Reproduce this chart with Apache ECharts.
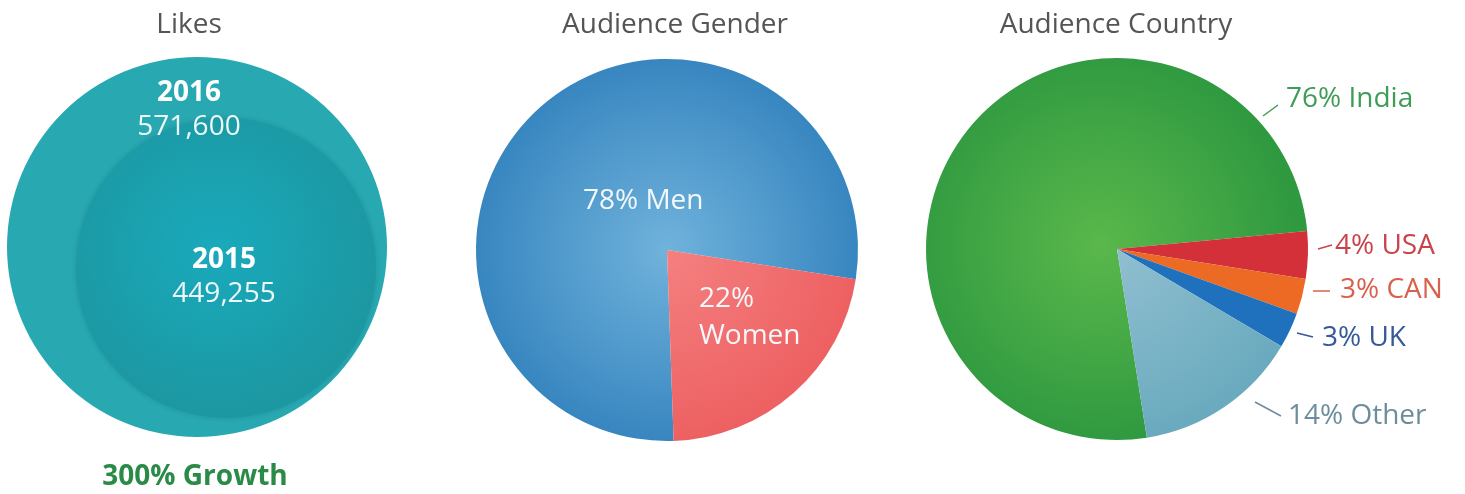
<!DOCTYPE html>
<html>
<head>
<meta charset="utf-8">
<script src="https://cdn.jsdelivr.net/npm/echarts@6/dist/echarts.min.js"></script>
<style>
html,body{margin:0;padding:0;background:#fff;}
#chart{width:1465px;height:494px;}
</style>
</head>
<body>
<div id="chart"></div>
<script>
// ---- data ----
const panelTitles = ['Likes', 'Audience Gender', 'Audience Country'];
const likeYears = ['2016', '2015'];
const likeValues = [571600, 449255];
const growthText = '300% Growth';
const genderNames = ['Men', 'Women'];
const genderValues = [78, 22];
const countryNames = ['India', 'USA', 'CAN', 'UK', 'Other'];
const countryValues = [76, 4, 3, 3, 14];

// ---- styles ----
const FONT = '"Open Sans", "Noto Sans", sans-serif';
const FS = 28;
function radialAt(cx, cy, r, c0, c1) {
  return new echarts.graphic.RadialGradient(cx, cy, r, [
    {offset: 0, color: c0}, {offset: 1, color: c1}
  ], true);
}
const GC = [667, 250, 191];   // gender pie center/radius
const CC = [1117, 249, 191];  // country pie center/radius
const countryFill = [
  radialAt(1100, 245, 200, '#5ab84b', '#2f9940'),
  '#d3303a', '#ec6a24', '#1f70bd',
  radialAt(1117, 249, 191, '#90bfd0', '#6aaabe')
];
const countryText = ['#3f9c57', '#c9434a', '#d9604c', '#34589a', '#6d8d9c'];
const countryLabelPos = [
  {x: 1286, y: 99, line: [[1263, 116], [1278, 105]]},
  {x: 1335, y: 246, line: [[1318, 249], [1332, 245]]},
  {x: 1340, y: 290, line: [[1313, 291], [1330, 291]]},
  {x: 1322, y: 338, line: [[1297, 333], [1313, 337]]},
  {x: 1288, y: 416, line: [[1255, 402], [1281, 416]]}
];
function fmt(n) { return n.toLocaleString('en-US'); }

const chart = echarts.init(document.getElementById('chart'), null, {renderer: 'canvas'});

const titleX = [184, 670, 1111];
const likeRich = {
  b: {fontFamily: FONT, fontSize: FS, fontWeight: 'bold', color: '#fff', lineHeight: 34},
  v: {fontFamily: FONT, fontSize: FS, color: '#eef8f8', lineHeight: 34}
};
const option = {
  animation: false,
  title: panelTitles.map((t, i) => ({
    text: t, left: titleX[i], top: 6, textAlign: 'center',
    textStyle: {fontFamily: FONT, fontSize: FS, fontWeight: 'normal', color: '#555'}
  })).concat([{
    text: growthText, left: 190, top: 458, textAlign: 'center',
    textStyle: {fontFamily: FONT, fontSize: FS, fontWeight: 'bold', color: '#2a8a48'}
  }]),
  series: [
    // Likes 2016 (outer circle)
    {
      type: 'pie', silent: true, center: [197, 247], radius: [0, 190],
      data: [{name: likeYears[0], value: likeValues[0]}],
      itemStyle: {color: '#28a9b2'},
      label: {
        show: true, position: 'inside',
        formatter: p => '{b|' + p.name + '}\n{v|' + fmt(p.value) + '}',
        rich: likeRich
      },
      labelLine: {show: false},
      labelLayout: () => ({x: 189, y: 110, align: 'center', verticalAlign: 'middle'})
    },
    // Likes 2015 (inner circle)
    {
      type: 'pie', silent: true, center: [226, 268], radius: [0, 150],
      data: [{name: likeYears[1], value: likeValues[1]}],
      itemStyle: {color: radialAt(215, 250, 160, '#19aabc', '#1c98a2'), shadowBlur: 6, shadowColor: 'rgba(0,60,70,0.22)'},
      label: {
        show: true, position: 'inside',
        formatter: p => '{b|' + p.name + '}\n{v|' + fmt(p.value) + '}',
        rich: likeRich
      },
      labelLine: {show: false},
      labelLayout: () => ({x: 224, y: 277, align: 'center', verticalAlign: 'middle'})
    },
    // Gender
    {
      type: 'pie', silent: true, center: [GC[0], GC[1]], radius: [0, GC[2]],
      startAngle: -88, clockwise: true,
      data: genderNames.map((n, i) => ({
        name: n, value: genderValues[i],
        itemStyle: {color: i === 0
          ? radialAt(GC[0], GC[1], GC[2], '#70b3dc', '#3886c0')
          : radialAt(GC[0], GC[1], GC[2] * 1.2, '#f58080', '#ec5a5c')}
      })),
      label: {
        show: true, position: 'inside', fontFamily: FONT, fontSize: FS, color: '#f4f8fb',
        lineHeight: 37, align: 'left',
        formatter: p => p.dataIndex === 0 ? p.value + '% ' + p.name : p.value + '%\n' + p.name
      },
      labelLine: {show: false},
      labelLayout: p => p.dataIndex === 0
        ? {x: 583, y: 201, align: 'left', verticalAlign: 'middle'}
        : {x: 699, y: 318, align: 'left', verticalAlign: 'middle'}
    },
    // Country
    {
      type: 'pie', silent: true, center: [CC[0], CC[1]], radius: [0, CC[2]],
      startAngle: -81, clockwise: true, minAngle: 0,
      data: countryNames.map((n, i) => ({
        name: n, value: countryValues[i],
        itemStyle: {color: countryFill[i]},
        label: {color: countryText[i]},
        labelLine: {lineStyle: {color: countryText[i]}}
      })),
      label: {
        show: true, position: 'outside', fontFamily: FONT, fontSize: FS,
        formatter: p => p.value + '% ' + p.name
      },
      labelLine: {show: true, length: 8, length2: 4, lineStyle: {width: 1.5}},
      labelLayout: p => ({
        x: countryLabelPos[p.dataIndex].x, y: countryLabelPos[p.dataIndex].y,
        align: 'left', verticalAlign: 'middle',
        labelLinePoints: [countryLabelPos[p.dataIndex].line[0], countryLabelPos[p.dataIndex].line[1], countryLabelPos[p.dataIndex].line[1]]
      })
    }
  ]
};
chart.setOption(option);
</script>
</body>
</html>
